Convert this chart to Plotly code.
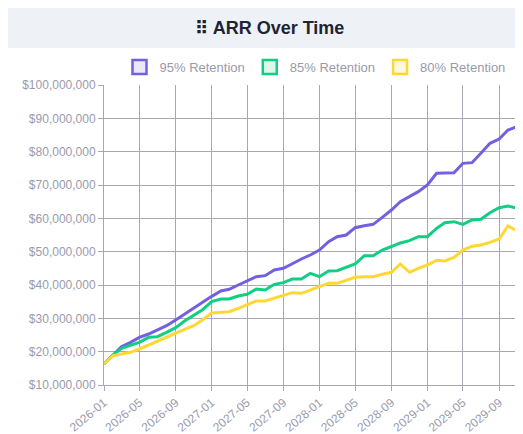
import pandas as pd
import plotly.graph_objects as go

# 월별 ARR (백만 달러 단위)
months = pd.date_range('2026-01-01', periods=48, freq='MS').strftime('%Y-%m-%d').tolist()

ret95 = [16.3, 19, 21.5, 22.8, 24.3, 25.3, 26.5, 27.8, 29.5, 31.3, 33, 34.8,
         36.6, 38.2, 38.7, 40, 41.2, 42.5, 42.8, 44.5, 45, 46.5, 47.8, 49,
         50.5, 53, 54.5, 55, 57.2, 57.8, 58.2, 60.3, 62.5, 65, 66.5, 68,
         70, 73.5, 73.6, 73.7, 76.5, 76.7, 79.5, 82.5, 83.8, 86.5, 87.5, 90]
ret85 = [16.3, 19, 21, 22, 22.8, 24.3, 24.5, 25.8, 27.2, 29.2, 31, 32.6,
         35, 35.8, 35.8, 36.7, 37.2, 38.8, 38.5, 40.2, 40.7, 41.8, 41.8, 43.5,
         42.5, 44.2, 44.3, 45.2, 46.3, 48.8, 48.8, 50.5, 51.6, 52.6, 53.3, 54.5,
         54.5, 57, 58.7, 59, 58.2, 59.5, 59.7, 61.7, 63.2, 63.7, 63, 65]
ret80 = [16.3, 18.8, 19.3, 19.8, 20.8, 22, 23.2, 24.5, 25.6, 26.7, 27.8, 29.5,
         31.6, 31.8, 32, 33, 34, 35.2, 35.2, 36, 36.8, 37.7, 37.5, 38.5,
         39.5, 40.5, 40.5, 41.5, 42.3, 42.5, 42.5, 43.2, 43.8, 46.3, 43.8, 45,
         46, 47.4, 47.2, 48.3, 50.5, 51.6, 52, 52.8, 53.8, 57.7, 56.3, 57.2]

series = [('95% Retention', ret95, '#7360e0', '#ebe8fb'),
          ('85% Retention', ret85, '#10cf82', '#dcf7ec'),
          ('80% Retention', ret80, '#fdd835', '#fff8dc')]

fig = go.Figure()
for name, vals, color, fill in series:
    fig.add_trace(go.Scatter(x=months, y=[v * 1e6 for v in vals], mode='lines',
                             line=dict(color=color, width=3), name=name, showlegend=False,
                             cliponaxis=False))
    # 범례용 사각형
    fig.add_trace(go.Scatter(x=[None], y=[None], mode='markers', name=name,
                             marker=dict(symbol='square', size=14, color=fill,
                                         line=dict(color=color, width=2.5))))

# 제목 배경 띠
fig.add_shape(type='rect', xref='paper', yref='paper', x0=-0.25, x1=1.02,
              y0=1.123, y1=1.3, fillcolor='#eef2f7', line_width=0, layer='below')

fig.update_layout(
    width=523, height=434,
    margin=dict(l=96, r=5, t=77, b=57),
    paper_bgcolor='white', plot_bgcolor='white',
    font=dict(family='Arial, Liberation Sans, sans-serif', color='#9a9aab', size=12),
    title=dict(text='<b>⠿ ARR Over Time</b>', x=0.5, xref='container', y=1 - 20 / 434,
               yanchor='middle', xanchor='center', font=dict(size=18, color='#1f2433')),
    legend=dict(orientation='h', x=0.5, xanchor='center', y=1.01, yanchor='bottom',
                font=dict(size=13, color='#9a9aab'), itemwidth=30),
    xaxis=dict(type='date', range=[months[0], months[-1]], tick0=months[0], dtick='M4',
               tickformat='%Y-%m', tickangle=-40,
               showgrid=True, gridcolor='#a7a7b5', ticks='outside', ticklen=5,
               tickcolor='#a7a7b5', linecolor='#a7a7b5', showline=True),
    yaxis=dict(range=[10e6, 100e6], dtick=10e6, tickprefix='$', tickformat=',.0f',
               showgrid=True, gridcolor='#a7a7b5', linecolor='#a7a7b5', showline=True,
               ticks='outside', ticklen=5, tickcolor='#a7a7b5', zeroline=False),
)

fig.write_html('out.html')
